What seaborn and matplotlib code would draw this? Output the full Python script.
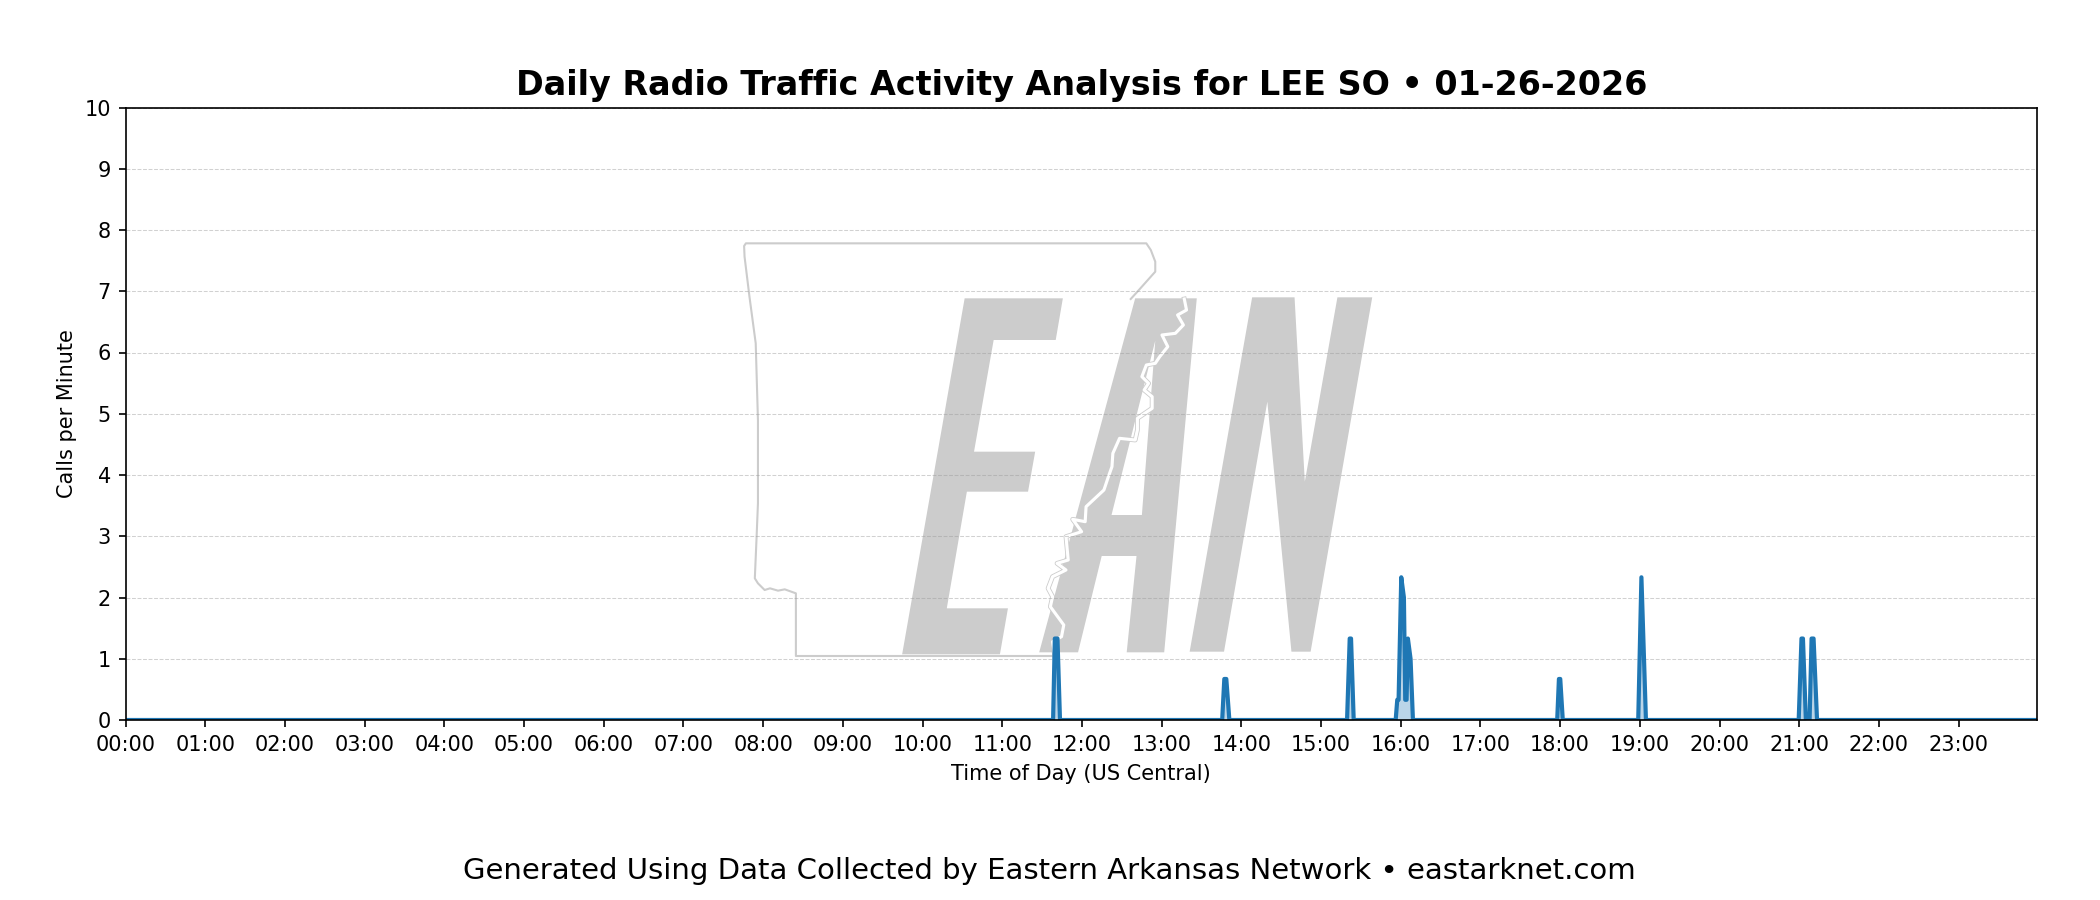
import matplotlib
matplotlib.use("Agg")
import matplotlib.pyplot as plt
from matplotlib.patches import Polygon
import pandas as pd
import seaborn as sns

# Activity: minutes after midnight and calls per minute
minutes = [0, 698.3, 699.6, 701.6, 703.5,
           825.6, 827.2, 828.7, 831,
           919.6, 921.6, 922.6, 924.6,
           956.2, 957.4, 958.4, 960.4, 962.4, 963.4, 964.4, 965.4, 967.4, 969.2,
           1077.8, 1079.1, 1080.1, 1082,
           1138.8, 1141.2, 1144.6,
           1259.6, 1261.7, 1262.8, 1265,
           1267.8, 1269.3, 1270.8, 1273.4, 1439]
calls = [0, 0, 1.33, 1.33, 0,
         0, 0.67, 0.67, 0,
         0, 1.33, 1.33, 0,
         0, 0.33, 0.33, 2.33, 2.0, 0.33, 0.33, 1.33, 1.0, 0,
         0, 0.67, 0.67, 0,
         0, 2.33, 0,
         0, 1.33, 1.33, 0,
         0, 1.33, 1.33, 0, 0]

hour_labels = [f"{h:02d}:00" for h in range(24)]
y_ticks = list(range(0, 11))
title = "Daily Radio Traffic Activity Analysis for LEE SO • 01-26-2026"
footer = "Generated Using Data Collected by Eastern Arkansas Network • eastarknet.com"

# Watermark shapes (traced in reference pixels: x = 720 + u/2.24, y = 220 + v/3)
letter_e = [(548, 235), (768, 235), (752, 360), (613, 360), (569, 695), (706, 695),
            (690, 815), (553, 815), (508, 1165), (645, 1165), (627, 1303), (408, 1303)]
letter_a = [(930, 235), (1068, 235), (995, 1297), (911, 1297), (933, 1008), (855, 1008),
            (802, 1297), (715, 1297)]
letter_a_hole = [(975, 362), (945, 885), (877, 885)]
letter_n = [(1192, 232), (1287, 232), (1310, 785), (1383, 232), (1461, 232), (1323, 1295),
            (1280, 1295), (1226, 545), (1129, 1295), (1052, 1295)]
state_west = [(920, 237), (935, 215), (955, 185), (975, 155), (975, 125), (965, 90),
              (955, 70), (58, 70), (54, 78), (55, 110), (66, 230), (80, 370), (85, 600),
              (85, 850), (82, 950), (78, 1075), (85, 1090), (100, 1110), (112, 1105),
              (130, 1112), (145, 1108), (170, 1120), (170, 1308), (750, 1308)]
river = [(1040, 237), (1045, 270), (1025, 285), (1038, 315), (1020, 340), (990, 345),
         (1003, 380), (985, 410), (975, 430), (955, 435), (945, 470), (960, 490),
         (950, 510), (968, 530), (968, 565), (935, 595), (935, 630), (930, 660),
         (895, 655), (880, 700), (878, 740), (870, 770), (860, 810), (820, 860),
         (818, 905), (790, 898), (810, 935), (775, 950), (780, 1020), (755, 1030),
         (775, 1050), (745, 1070), (735, 1105), (745, 1130), (740, 1160), (770, 1215),
         (765, 1250), (745, 1265), (750, 1308)]

FW, FH = 2100, 900


def to_fig(points):
    return [((720 + u / 2.24) / FW, 1 - (220 + v / 3) / FH) for u, v in points]


fig, ax = plt.subplots(figsize=(14, 6), dpi=150)
fig.subplots_adjust(left=125.5 / FW, right=2037 / FW, top=1 - 107.5 / FH, bottom=1 - 720 / FH)

gray = "#cccccc"
for shape in (letter_e, letter_a, letter_n):
    ax.add_patch(Polygon(to_fig(shape), closed=True, transform=fig.transFigure,
                         facecolor=gray, edgecolor="none", zorder=0.5, clip_on=False))
ax.add_patch(Polygon(to_fig(letter_a_hole), closed=True, transform=fig.transFigure,
                     facecolor="white", edgecolor="none", zorder=0.6, clip_on=False))
for path, width, colour, z in ((state_west, 1.0, gray, 0.7), (river, 2.3, gray, 0.7), (river, 1.5, "white", 0.8)):
    xs, ys = zip(*to_fig(path))
    ax.plot(xs, ys, transform=fig.transFigure, color=colour, lw=width, zorder=z, clip_on=False,
            solid_joinstyle="round")

df = pd.DataFrame({"minute": minutes, "calls": calls})
sns.lineplot(data=df, x="minute", y="calls", ax=ax, color="#1f77b4", linewidth=2,
             errorbar=None, estimator=None, sort=False)
ax.fill_between(df["minute"], df["calls"], 0, color="#1f77b4", alpha=0.3, linewidth=0)

ax.set_xlim(0, 1439)
ax.set_ylim(0, 10)
ax.set_xticks([h * 60 for h in range(24)])
ax.set_xticklabels(hour_labels)
ax.set_yticks(y_ticks)
ax.tick_params(labelsize=10)
ax.grid(axis="y", color="#999999", linestyle="--", linewidth=0.5, alpha=0.45)
ax.grid(axis="x", visible=False)
ax.set_xlabel("Time of Day (US Central)", fontsize=10, labelpad=4.5)
ax.set_ylabel("Calls per Minute", fontsize=10, labelpad=3.5)
ax.set_title(title, fontsize=16, fontweight="bold", pad=6)
fig.text(0.4995, 1 - 871 / FH, footer, ha="center", va="center", fontsize=14)
fig.savefig("out.png", dpi=150)
